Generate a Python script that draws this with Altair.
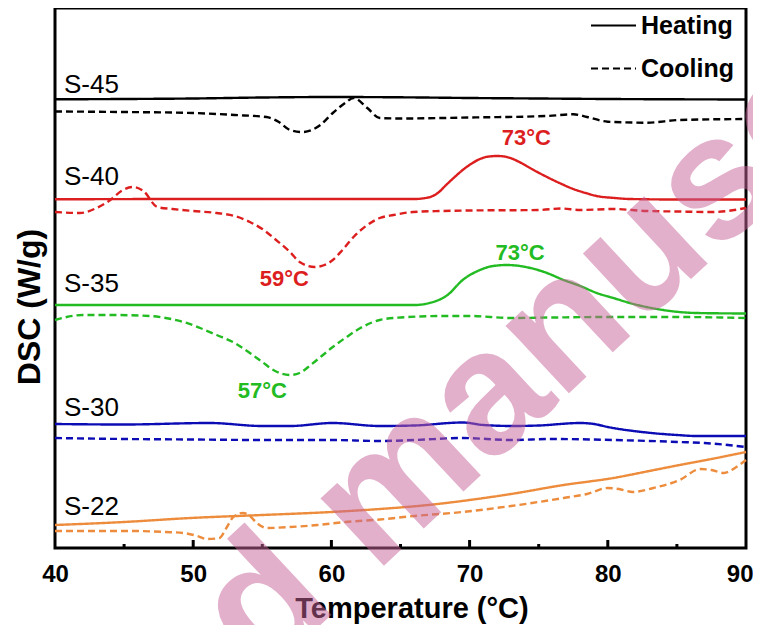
import altair as alt
import pandas as pd

# ---- DSC curves (temperature in °C, heat flow in arbitrary offset units) ----
s45_heat_T = [40, 45, 50, 55, 60, 65, 70, 75, 80, 85, 90]
s45_heat_v = [448.7, 449, 449.5, 450.5, 451, 450.7, 450, 449.5, 449, 448.7, 448.5]
s45_cool_T = [40, 45, 50, 53, 55.3, 56.2, 57, 57.9, 59.2, 60.1, 61, 61.6, 62.6, 63.5, 65, 70, 75.6, 77.5, 78.5, 80, 82.8, 85.2, 90]
s45_cool_v = [436.5, 436, 435, 433, 431, 426, 418, 416, 423, 435, 445, 450, 440, 430, 429.5, 430.5, 432, 433.7, 431, 426.3, 425.3, 428, 429]

s40_heat_T = [40, 50, 60, 66, 67, 67.7, 68.3, 69, 69.5, 70.1, 70.75, 71.4, 72, 72.7, 73.6, 74.5, 75.6, 76.5, 77.5, 78.4, 79.2, 80.5, 81.6, 85, 90]
s40_heat_v = [348.7, 349, 349, 349, 350.5, 355, 363, 372, 378, 384, 389, 391.5, 392, 391, 386, 379, 371, 365, 359, 355, 352, 350, 349, 348.5, 348.5]
s40_cool_T = [40, 41.8, 43, 44, 44.8, 45.6, 46.4, 47.4, 48.5, 50, 51.7, 53, 54.1, 55, 56, 57, 57.7, 58.8, 59.5, 60.1, 60.8, 61.6, 62.5, 63.5, 64.5, 65.9, 68, 70, 75, 76.6, 78, 80.4, 82.8, 85, 87.6, 90]
s40_cool_v = [336, 335, 340, 348, 357, 361, 357, 341, 339, 337, 335, 332, 326, 319, 308, 296, 286, 281, 283, 288, 298, 311, 322, 330, 333, 336, 337, 337.5, 338, 339.5, 338, 339, 337, 336.5, 336, 340]

s35_heat_T = [40, 50, 60, 66, 67.1, 68.4, 69.5, 70.75, 71.7, 72.7, 74.4, 75.6, 76.8, 78, 79.2, 80.4, 81.6, 82.8, 84, 86.4, 90]
s35_heat_v = [243, 243, 243, 243, 245, 253, 268, 278, 282, 283, 280, 275, 268, 262, 255, 250, 245, 241, 238, 235, 234.5]
s35_cool_T = [40, 42, 44, 46.9, 48, 49.3, 50.5, 51.7, 53, 54.1, 55, 55.8, 57, 57.7, 58.5, 59.3, 60.1, 61.1, 62.1, 63.5, 65, 68, 70, 73, 76, 80, 85, 90]
s35_cool_v = [228, 233, 233, 232, 230, 226, 220, 213, 205, 195, 186, 178, 173, 175, 183, 192, 201, 211, 220, 228, 230.5, 232, 232, 230, 230.5, 231, 231, 230]

s30_heat_T = [40, 45, 51.2, 55, 57, 60.1, 63.5, 66, 69.5, 71, 73.1, 75, 78, 79, 80, 82.8, 85, 86.4, 90]
s30_heat_v = [124, 123.5, 125, 122, 122, 125, 122, 122.5, 125.5, 123, 122, 122.5, 125, 124, 121, 115.5, 113, 112, 112]
s30_cool_T = [40, 45, 50, 55, 60, 63.5, 66, 69.5, 73, 76, 80.4, 85.2, 87, 90]
s30_cool_v = [110, 109, 108.5, 108, 108, 107, 108, 110, 108, 109, 108, 106, 105, 101]

s22_heat_T = [40, 45, 49.8, 55, 60, 63.5, 67, 70, 73, 76.8, 80.4, 83, 85.2, 87.5, 90]
s22_heat_v = [23, 26, 30, 33, 36, 39, 43, 48, 54, 63, 70, 77, 83, 89, 96]
s22_cool_T = [40, 45.6, 48, 49.3, 50.3, 51, 51.9, 52.4, 52.9, 53.6, 54.1, 54.6, 55.3, 57, 59, 61, 63.5, 66, 69.5, 73, 76.8, 78.5, 80, 80.8, 81.8, 83.3, 85.2, 86.7, 87.5, 88.4, 89.3, 90]
s22_cool_v = [17, 17, 16, 15, 12, 9, 10, 20, 31, 35, 32, 25, 20, 21, 23, 26, 28.5, 32, 36, 42, 50, 54, 60, 59, 56, 60, 68, 79, 78, 75, 81, 88]

samples = ["S-45", "S-40", "S-35", "S-30", "S-22"]
sample_colors = ["#000000", "#dc1e1e", "#22bb22", "#0c0cb4", "#ec8c3c"]
modes = ["Heating", "Cooling"]

# sample name labels
label_T = [40.65, 40.65, 40.65, 40.65, 40.65]
label_v = [455, 363, 256, 132, 33]

# peak annotations
ann_text = ["73°C", "59°C", "73°C", "57°C"]
ann_sample = ["S-40", "S-40", "S-35", "S-35"]
ann_T = [74.1, 56.6, 73.65, 55.0]
ann_v = [403, 262, 288, 150]

# axis ticks
major_ticks = [50, 60, 70, 80]
minor_ticks = [45, 55, 65, 75, 85]
x_labels = [40, 50, 60, 70, 80, 90]

# watermark
wm_words = ["Accepted", "manuscript"]
wm_T = [63.15, 63.15]
wm_v = [-26, -26]

series = [
    ("S-45", "Heating", s45_heat_T, s45_heat_v), ("S-45", "Cooling", s45_cool_T, s45_cool_v),
    ("S-40", "Heating", s40_heat_T, s40_heat_v), ("S-40", "Cooling", s40_cool_T, s40_cool_v),
    ("S-35", "Heating", s35_heat_T, s35_heat_v), ("S-35", "Cooling", s35_cool_T, s35_cool_v),
    ("S-30", "Heating", s30_heat_T, s30_heat_v), ("S-30", "Cooling", s30_cool_T, s30_cool_v),
    ("S-22", "Heating", s22_heat_T, s22_heat_v), ("S-22", "Cooling", s22_cool_T, s22_cool_v),
]
rows = []
for s, m, ts, vs in series:
    for t, v in zip(ts, vs):
        rows.append({"sample": s, "mode": m, "T": t, "v": v})
df = pd.DataFrame(rows)

df_lab = pd.DataFrame({"name": samples, "T": label_T, "v": label_v})
df_ann = pd.DataFrame({"text": ann_text, "sample": ann_sample, "T": ann_T, "v": ann_v})
df_major = pd.DataFrame({"T": major_ticks, "v": [0] * len(major_ticks)})
df_minor = pd.DataFrame({"T": minor_ticks, "v": [0] * len(minor_ticks)})
df_wm = pd.DataFrame({"word": wm_words, "T": wm_T, "v": wm_v})

FONT = "Liberation Sans"

x_enc = alt.X(
    "T:Q",
    scale=alt.Scale(domain=[40, 90], nice=False, zero=False),
    axis=alt.Axis(
        values=x_labels, ticks=False, domain=False, grid=False,
        labelFont=FONT, labelFontSize=24, labelFontWeight="bold", labelColor="black",
        labelBaseline="alphabetic", labelPadding=33, labelFlush=False,
        labelAlign={"condition": {"test": "datum.value == 90", "value": "right"}, "value": "center"},
        labelOffset={"condition": {"test": "datum.value == 90", "value": 7}, "value": 0},
        title="Temperature (°C)", titleFont=FONT, titleFontSize=29, titleFontWeight="bold",
        titleColor="black", titleX=356.5, titleY=69, titleBaseline="alphabetic", titleAlign="center",
    ),
)
y_enc = alt.Y(
    "v:Q",
    scale=alt.Scale(domain=[0, 540], nice=False, zero=False),
    axis=alt.Axis(
        labels=False, ticks=False, domain=False, grid=False,
        title="DSC (W/g)", titleFont=FONT, titleFontSize=32, titleFontWeight="bold",
        titleColor="black", titleX=-26, titleY=298.5, titleBaseline="middle",
        titleAlign="center", titleAngle=270,
    ),
)
color_scale = alt.Scale(domain=samples, range=sample_colors)

lines = alt.Chart(df).mark_line(strokeWidth=2.4, interpolate="monotone").encode(
    x=x_enc,
    y=y_enc,
    color=alt.Color("sample:N", scale=color_scale, legend=None),
    strokeDash=alt.StrokeDash(
        "mode:N",
        scale=alt.Scale(domain=modes, range=[[1, 0], [7, 4]]),
        legend=alt.Legend(
            title=None, orient="none", legendX=535, legendY=-6,
            symbolType="stroke", symbolSize=2025, symbolStrokeWidth=2,
            symbolStrokeColor="black", labelFont=FONT, labelFontSize=25,
            labelFontWeight="bold", labelColor="black", labelOffset=4,
            rowPadding=6, padding=0,
        ),
    ),
)

names = alt.Chart(df_lab).mark_text(
    align="left", baseline="alphabetic", font=FONT, fontSize=26, color="black"
).encode(x="T:Q", y="v:Q", text="name:N")

anns = alt.Chart(df_ann).mark_text(
    align="center", baseline="alphabetic", font=FONT, fontSize=22, fontWeight="bold"
).encode(
    x="T:Q", y="v:Q", text="text:N",
    color=alt.Color("sample:N", scale=color_scale, legend=None),
)

tick_major = alt.Chart(df_major).mark_tick(
    orient="vertical", size=16, thickness=3, color="black", clip=True, opacity=1
).encode(x="T:Q", y="v:Q")
tick_minor = alt.Chart(df_minor).mark_tick(
    orient="vertical", size=8, thickness=3, color="black", clip=True, opacity=1
).encode(x="T:Q", y="v:Q")

wm_m = alt.Chart(df_wm[df_wm.word == "manuscript"]).mark_text(
    align="left", baseline="alphabetic", font=FONT, fontSize=175, fontWeight="bold",
    angle=317, color="#c8649a", opacity=0.5,
).encode(x="T:Q", y="v:Q", text="word:N")
wm_a = alt.Chart(df_wm[df_wm.word == "Accepted"]).mark_text(
    align="right", baseline="alphabetic", font=FONT, fontSize=175, fontWeight="bold",
    angle=317, dx=-48, color="#c8649a", opacity=0.5,
).encode(x="T:Q", y="v:Q", text="word:N")

chart = alt.layer(lines, names, anns, tick_major, tick_minor, wm_a, wm_m).properties(
    width=691,
    height=540,
    autosize=alt.AutoSizeParams(type="none"),
    padding={"left": 47, "top": 0, "right": 7, "bottom": 77},
).configure(font=FONT).configure_view(stroke="black", strokeWidth=3)

chart.save("out.html", embed_options={"renderer": "svg", "actions": False})
